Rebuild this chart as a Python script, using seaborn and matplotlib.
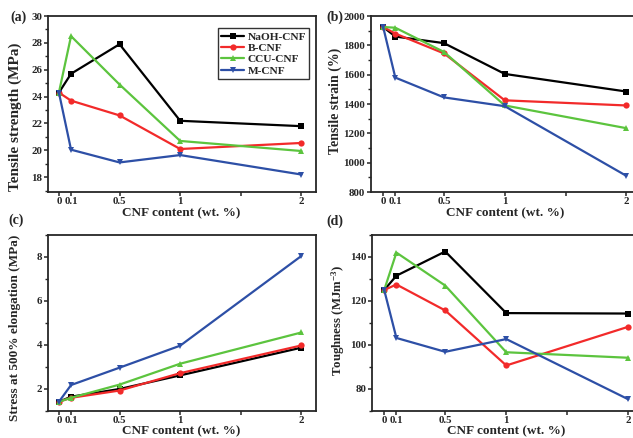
import numpy as np
import pandas as pd
import matplotlib
matplotlib.use("Agg")
import matplotlib.pyplot as plt
from matplotlib.ticker import MultipleLocator
import seaborn as sns

# ---------------- data ----------------
cnf_content = [0, 0.1, 0.5, 1, 2]
series_names = ["NaOH-CNF", "B-CNF", "CCU-CNF", "M-CNF"]

tensile_strength_naoh = [24.3, 25.7, 27.9, 22.2, 21.8]
tensile_strength_b = [24.3, 23.7, 22.6, 20.1, 20.55]
tensile_strength_ccu = [24.3, 28.5, 24.9, 20.7, 19.95]
tensile_strength_m = [24.3, 20.05, 19.1, 19.65, 18.2]

tensile_strain_naoh = [1925, 1860, 1815, 1605, 1485]
tensile_strain_b = [1925, 1880, 1745, 1425, 1390]
tensile_strain_ccu = [1925, 1920, 1755, 1390, 1235]
tensile_strain_m = [1925, 1580, 1445, 1385, 910]

stress500_naoh = [1.42, 1.65, 2.0, 2.62, 3.88]
stress500_b = [1.42, 1.6, 1.93, 2.72, 3.98]
stress500_ccu = [1.42, 1.6, 2.2, 3.15, 4.57]
stress500_m = [1.42, 2.18, 2.97, 3.97, 8.05]

toughness_naoh = [125, 131.5, 142.5, 114.5, 114.3]
toughness_b = [125, 127.5, 115.7, 90.7, 108.3]
toughness_ccu = [125, 142, 127, 96.7, 94.2]
toughness_m = [125, 103.2, 96.9, 102.7, 75.3]

x_tick_values = [0, 0.1, 0.5, 1, 1.5, 2]
x_tick_labels = ["0", "0.1", "0.5", "1", "", "2"]

# ---------------- style ----------------
sns.set_theme(style="ticks")
plt.rcParams["font.family"] = ["Liberation Serif", "DejaVu Serif"]
plt.rcParams["font.weight"] = "bold"
plt.rcParams["axes.labelweight"] = "bold"
plt.rcParams["mathtext.fontset"] = "custom"
plt.rcParams["mathtext.rm"] = "Liberation Serif:bold"
plt.rcParams["mathtext.bf"] = "Liberation Serif:bold"
plt.rcParams["mathtext.default"] = "bf"

colors = {"NaOH-CNF": "#000000", "B-CNF": "#f22a2a",
          "CCU-CNF": "#5cc43e", "M-CNF": "#2d4fa6"}
markers = {"NaOH-CNF": "s", "B-CNF": "o", "CCU-CNF": "^", "M-CNF": "v"}

W, H = 633, 438
fig = plt.figure(figsize=(W / 100, H / 100), dpi=100)


def px_axes(left, right, top, bottom):
    return fig.add_axes([left / W, (H - bottom) / H, (right - left) / W, (bottom - top) / H])


def make_df(vals):
    rows = []
    for name, v in zip(series_names, vals):
        for x, y in zip(cnf_content, v):
            rows.append({"x": x, "y": y, "series": name})
    return pd.DataFrame(rows)


def fig_px_to_axes(ax, px, py):
    return ax.transAxes.inverted().transform(
        fig.transFigure.transform((px / W, 1 - py / H)))


def draw(ax, vals, ylim, major, minor, ylabel, xlim, ylsize, ylx, yly, xlx, xly, legend=False):
    df = make_df(vals)
    sns.lineplot(data=df, x="x", y="y", hue="series", style="series",
                 palette=colors, markers=markers, dashes=False,
                 hue_order=series_names, style_order=series_names,
                 linewidth=1.6, markersize=4.5, markeredgewidth=0,
                 legend=legend, ax=ax)
    ax.set_xlim(*xlim)
    ax.set_ylim(*ylim)
    ax.set_xticks(x_tick_values)
    ax.set_xticklabels(x_tick_labels)
    ax.yaxis.set_major_locator(MultipleLocator(major))
    ax.yaxis.set_minor_locator(MultipleLocator(minor))
    ax.tick_params(axis="both", which="major", direction="out", length=3.2, width=1.1,
                   labelsize=7.8, pad=1.0)
    ax.tick_params(axis="x", which="major", pad=0.6)
    ax.tick_params(axis="y", which="minor", direction="out", length=2.0, width=1.0)
    for lab in ax.get_xticklabels() + ax.get_yticklabels():
        lab.set_fontweight("bold")
    for s in ax.spines.values():
        s.set_visible(True)
        s.set_linewidth(1.3)
    ax.set_xlabel("CNF content (wt. %)", fontsize=9.5, fontweight="bold")
    ax.set_ylabel(ylabel, fontsize=ylsize, fontweight="bold")
    ax.yaxis.set_label_coords(*fig_px_to_axes(ax, ylx, yly))
    ax.yaxis.label.set_va("center")
    ax.xaxis.set_label_coords(*fig_px_to_axes(ax, xlx, xly))
    ax.xaxis.label.set_va("center")


ax_a = px_axes(48, 316, 16, 192)
ax_b = px_axes(371, 641, 16, 192)
ax_c = px_axes(48, 316, 235, 411)
ax_d = px_axes(372, 643, 235, 411)

draw(ax_a, [tensile_strength_naoh, tensile_strength_b, tensile_strength_ccu, tensile_strength_m],
     (16.9, 30), 2, 1, "Tensile strength (MPa)", (-0.09, 2.12), 11.0, 15, 117, 181, 213, legend=True)
draw(ax_b, [tensile_strain_naoh, tensile_strain_b, tensile_strain_ccu, tensile_strain_m],
     (800, 2000), 200, 100, "Tensile strain (%)", (-0.1, 2.12), 10, 335, 101, 505, 213)
draw(ax_c, [stress500_naoh, stress500_b, stress500_ccu, stress500_m],
     (1.0, 9.0), 2, 1, "Stress at 500% elongation (MPa)", (-0.09, 2.12), 9.5, 15, 328, 181, 431.5)
draw(ax_d, [toughness_naoh, toughness_b, toughness_ccu, toughness_m],
     (70, 150), 20, 10, r"Toughness (MJm$^{-3}$)", (-0.1, 2.12), 9.3, 338, 320, 506, 431.5)

leg = ax_a.legend(loc="upper right", bbox_to_anchor=(0.975, 0.93), frameon=True,
                  fancybox=False, edgecolor="black", fontsize=8.2, handlelength=2.0,
                  handletextpad=0.3, labelspacing=0.12, borderpad=0.3, borderaxespad=0)
leg.get_frame().set_linewidth(1.0)
for t in leg.get_texts():
    t.set_fontweight("bold")

# panel letters
fig.text(10 / W, 1 - 17 / H, "(a)", fontsize=10, fontweight="bold", va="center")
fig.text(326 / W, 1 - 17 / H, "(b)", fontsize=10, fontweight="bold", va="center")
fig.text(8 / W, 1 - 220 / H, "(c)", fontsize=10, fontweight="bold", va="center")
fig.text(326 / W, 1 - 221 / H, "(d)", fontsize=10, fontweight="bold", va="center")

fig.savefig("out.png", dpi=100, facecolor="white")
